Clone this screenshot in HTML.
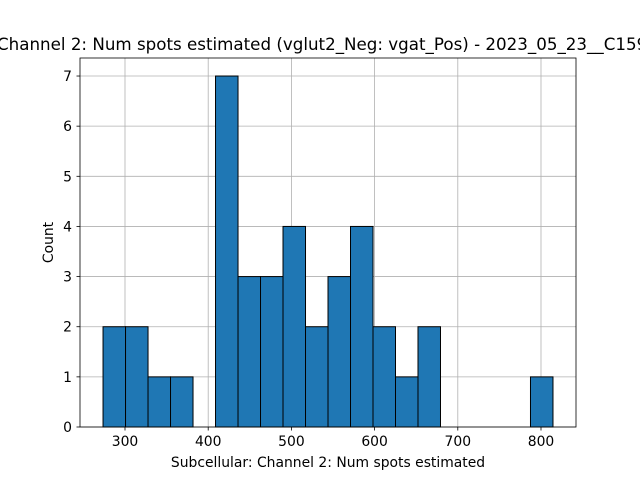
<!DOCTYPE html>
<html><head><meta charset="utf-8"><style>
body{margin:0;background:#fff;}
svg text{font-family:"DejaVu Sans","Liberation Sans",sans-serif;}
</style></head><body>
<svg id="chart" width="640" height="480" xmlns="http://www.w3.org/2000/svg">
<rect width="640" height="480" fill="#fff"/>
<g id="grid"></g>
<g id="bars"></g>
<rect x="80" y="58" width="496" height="369" fill="none" stroke="#000" stroke-width="0.8"/>
<g id="ticks"></g>
<text x="-3" y="50" font-size="16.7" fill="#000">Channel 2: Num spots estimated (vglut2_Neg: vgat_Pos) - 2023_05_23__C1596_x</text>
<text x="328" y="467" font-size="13.9" text-anchor="middle">Subcellular: Channel 2: Num spots estimated</text>
<text transform="translate(53,242.5) rotate(-90)" font-size="13.9" text-anchor="middle">Count</text>
</svg>
<script>
const binStart = 273.6;
const binWidth = 27.04;
const counts = [2,2,1,1,0,7,3,3,4,2,3,4,2,1,2,0,0,0,0,1];
const xTicks = [300,400,500,600,700,800];
const yTicks = [0,1,2,3,4,5,6,7];
const NS='http://www.w3.org/2000/svg';
const X=v=>125+(v-300)*0.832;
const Y=v=>427-v*50.14;
function mk(t,a,p){const e=document.createElementNS(NS,t);for(const k in a)e.setAttribute(k,a[k]);p.appendChild(e);return e;}
const g=document.getElementById('grid'),b=document.getElementById('bars'),tk=document.getElementById('ticks');
xTicks.forEach(v=>{
  const l=mk('line',{x1:X(v),x2:X(v),y1:58,y2:427,stroke:'#b0b0b0','stroke-width':0.8},g);
  
  
  const t=mk('line',{x1:X(v),x2:X(v),y1:427,y2:430.5,stroke:'#000','stroke-width':0.8},tk);
  
  
  const s=mk('text',{x:X(v),y:446,'font-size':13.9,'text-anchor':'middle'},tk);s.textContent=v;
  
  
});
yTicks.forEach(v=>{
  const l=mk('line',{x1:80,x2:576,y1:Y(v),y2:Y(v),stroke:'#b0b0b0','stroke-width':0.8},g);
  
  
  const t=mk('line',{x1:76.5,x2:80,y1:Y(v),y2:Y(v),stroke:'#000','stroke-width':0.8},tk);
  
  
  const s=mk('text',{x:72,y:Y(v)+5,'font-size':13.9,'text-anchor':'end'},tk);s.textContent=v;
  
  
});
counts.forEach((c,i)=>{
  if(!c)return;
  const x0=X(binStart+i*binWidth),x1=X(binStart+(i+1)*binWidth);
  const r=mk('rect',{x:x0,y:Y(c),width:x1-x0,height:Y(0)-Y(c),fill:'#1f77b4',stroke:'#000','stroke-width':1},b);
  
  
});
</script>
</body></html>
